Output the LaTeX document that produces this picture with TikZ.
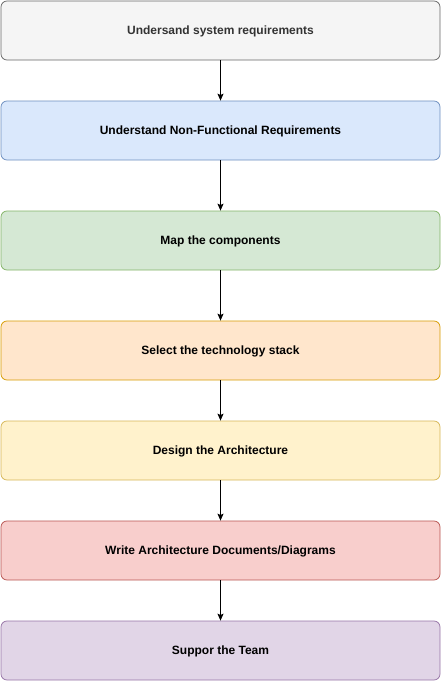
\documentclass[tikz,border=0pt]{standalone}
\usepackage{fontspec}
\setmainfont{Liberation Sans}
\usetikzlibrary{arrows.meta}
\definecolor{gf}{HTML}{F5F5F5}\definecolor{gd}{HTML}{666666}\definecolor{gt}{HTML}{333333}
\definecolor{bf}{HTML}{DAE8FC}\definecolor{bd}{HTML}{6C8EBF}
\definecolor{grf}{HTML}{D5E8D4}\definecolor{grd}{HTML}{82B366}
\definecolor{of}{HTML}{FFE6CC}\definecolor{od}{HTML}{D79B00}
\definecolor{yf}{HTML}{FFF2CC}\definecolor{yd}{HTML}{D6B656}
\definecolor{rf}{HTML}{F8CECC}\definecolor{rd}{HTML}{B85450}
\definecolor{pf}{HTML}{E1D5E7}\definecolor{pd}{HTML}{9673A6}
\begin{document}
\begin{tikzpicture}[x=1pt,y=-1pt,
  box/.style={draw, rounded corners=6pt, line width=0.75pt, minimum width=439pt, minimum height=59pt, inner sep=0pt,
    text height=8.6pt, text depth=0pt,
    font=\fontsize{12}{14}\selectfont\bfseries},
  conn/.style={-{Stealth[length=7pt,width=6pt,inset=1.5pt]}, line width=0.75pt}]
\useasboundingbox (0,0) rectangle (441,681);
\node[box, fill=gf, draw=gd, text=gt] (a) at (220.5,30.5) {Undersand system requirements};
\node[box, fill=bf, draw=bd] (b) at (220.5,130.5) {Understand Non-Functional Requirements};
\node[box, fill=grf, draw=grd] (c) at (220.5,240.5) {Map the components};
\node[box, fill=of, draw=od] (d) at (220.5,350.5) {Select the technology stack};
\node[box, fill=yf, draw=yd] (e) at (220.5,450.5) {Design the Architecture};
\node[box, fill=rf, draw=rd] (f) at (220.5,550.5) {Write Architecture Documents/Diagrams};
\node[box, fill=pf, draw=pd] (g) at (220.5,650.5) {Suppor the Team};
\foreach \s/\t in {a/b,b/c,c/d,d/e,e/f,f/g} \draw[conn] (\s) -- (\t);
\end{tikzpicture}
\end{document}
